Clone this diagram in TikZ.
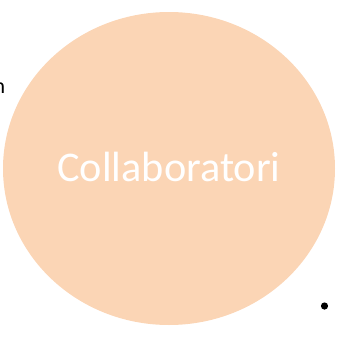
\documentclass[tikz,border=0pt]{standalone}
\usepackage{fontspec}
\setmainfont{Carlito}
\usetikzlibrary{positioning}
\definecolor{peach}{HTML}{FBD5B5}
\definecolor{ink}{HTML}{000000}

\begin{document}
\begin{tikzpicture}[x=1pt,y=-1pt]
\useasboundingbox (0,0) rectangle (337,338);\clip (0,0) rectangle (337,338);
\fill[peach] (169,168.5) ellipse (166 and 156.5);
\node[text=white,font=\fontsize{42.3}{50}\selectfont] (collab) at (169,167) {Collaboratori};
\node[ink,font=\fontsize{22}{26}\selectfont,anchor=base east,inner sep=0pt] (cut) at (5.5,93) {n};
\fill[ink] (324.5,306) circle (3.6) coordinate (dot);
\end{tikzpicture}
\end{document}
